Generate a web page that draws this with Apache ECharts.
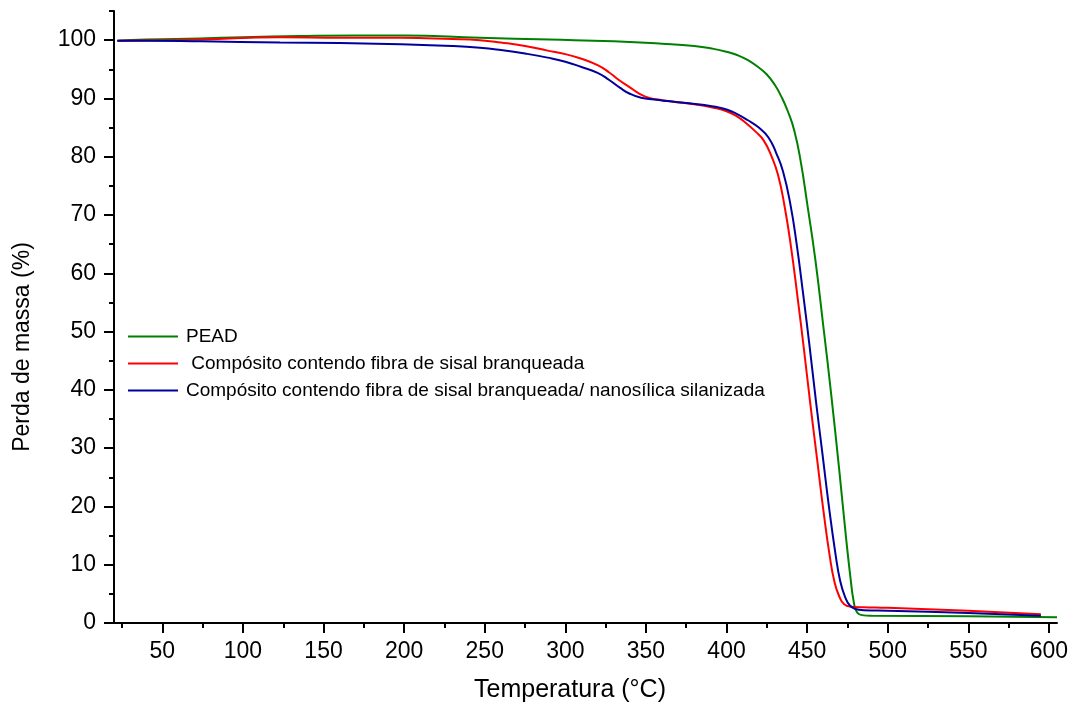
<!DOCTYPE html>
<html>
<head>
<meta charset="utf-8">
<script src="https://cdn.jsdelivr.net/npm/echarts@6/dist/echarts.min.js"></script>
<style>
html,body{margin:0;padding:0;background:#fff;}
#chart{width:1073px;height:711px;}
</style>
</head>
<body>
<div id="chart"></div>
<script>
// ---- data (Temperature °C, mass %) ----
const seriesNames = ['PEAD', ' Compósito contendo fibra de sisal branqueada', 'Compósito contendo fibra de sisal branqueada/ nanosílica silanizada'];

const peadData = [
  [22,99.9],[40,100.1],[73,100.3],[100,100.5],[135,100.7],[170,100.8],[200,100.8],[247,100.4],
  [290,100.1],[330,99.8],[360,99.4],[380,99.0],[392,98.5],[400,98.0],[407,97.4],[413,96.6],
  [420,95.3],[425,94.1],[430,92.3],[434,90.3],[438,87.8],[442,84.5],[446,79.2],[450,72],
  [455,62.5],[460,51],[465,39],[470,26],[474,15],[477,7.5],[479,3.5],[481,1.8],[484,1.35],
  [490,1.25],[550,1.15],[605,1.0]
];

const sisalData = [
  [23,99.9],[50,100.0],[74,100.1],[123,100.5],[160,100.4],[198,100.4],[230,100.2],[247,100.0],
  [260,99.6],[275,99.0],[289,98.2],[300,97.6],[310,96.8],[320,95.7],[327,94.5],[333,93.2],
  [340,91.9],[346,90.8],[352,90.1],[360,89.7],[371,89.3],[380,89.0],[392,88.4],[400,87.8],
  [406,87.0],[412,85.8],[418,84.3],[423,82.8],[428,80.0],[432,76.8],[436,71.5],[440,64.5],
  [444,56],[448,47],[452,37.5],[456,28.5],[460,19.5],[464,11.5],[467,7],[470,4.5],[473,3.2],
  [477,2.8],[485,2.7],[500,2.6],[550,2.1],[595,1.5]
];

const silicaData = [
  [22,99.9],[40,99.9],[74,99.8],[123,99.6],[160,99.5],[198,99.3],[230,99.0],[247,98.7],
  [260,98.3],[275,97.7],[289,97.0],[300,96.3],[310,95.4],[320,94.4],[327,93.2],[334,91.8],
  [340,90.8],[347,90.1],[355,89.8],[365,89.5],[375,89.2],[385,88.9],[392,88.6],[400,88.1],
  [406,87.4],[413,86.3],[420,85.0],[426,83.3],[431,80.5],[435,77.5],[439.5,72.0],[443.5,65],
  [447.5,56.5],[451.5,47.5],[455.5,38],[459.5,29],[463.5,20],[467.5,12],[470.5,7.2],
  [473.5,4.5],[476.5,3.0],[480,2.4],[485,2.2],[500,2.1],[550,1.7],[595,1.25]
];

// ---- axis ticks ----
const xMajorTicks = [50,100,150,200,250,300,350,400,450,500,550,600];
const xMinorTicks = [25,75,125,175,225,275,325,375,425,475,525,575];
const yMajorTicks = [0,10,20,30,40,50,60,70,80,90,100];
const yMinorTicks = [5,15,25,35,45,55,65,75,85,95,105];
const xRange = [20, 605];
const yRange = [0, 105];

const FONT = "'Liberation Sans', Arial, Helvetica, sans-serif";
const chart = echarts.init(document.getElementById('chart'), null, {renderer: 'canvas'});

const axisLineStyle = {color: '#000', width: 2};

chart.setOption({
  backgroundColor: '#fff',
  animation: false,
  grid: {left: 114, right: 16, top: 11, bottom: 88, containLabel: false},
  legend: {
    orient: 'vertical',
    left: 128, top: 327,
    padding: 0,
    itemWidth: 50, itemHeight: 2,
    itemGap: 8,
    icon: 'rect',
    textStyle: {fontFamily: FONT, fontSize: 19, color: '#000', padding: [0, 0, 0, 3]},
    data: seriesNames
  },
  xAxis: [
    {
      type: 'value', min: xRange[0], max: xRange[1], position: 'bottom',
      axisLine: {show: true, lineStyle: axisLineStyle, onZero: false},
      axisTick: {show: true, inside: false, length: 10, lineStyle: {color: '#000', width: 2}, customValues: xMajorTicks},
      axisLabel: {show: true, margin: 17, fontFamily: FONT, fontSize: 23, color: '#000', customValues: xMajorTicks},
      splitLine: {show: false}
    },
    {
      type: 'value', min: xRange[0], max: xRange[1], position: 'bottom',
      axisLine: {show: false, onZero: false},
      axisTick: {show: true, inside: false, length: 5, lineStyle: {color: '#000', width: 2}, customValues: xMinorTicks},
      axisLabel: {show: false},
      splitLine: {show: false}
    }
  ],
  yAxis: [
    {
      type: 'value', min: yRange[0], max: yRange[1], position: 'left',
      axisLine: {show: true, lineStyle: axisLineStyle, onZero: false},
      axisTick: {show: true, inside: false, length: 10, lineStyle: {color: '#000', width: 2}, customValues: yMajorTicks},
      axisLabel: {show: true, margin: 18, fontFamily: FONT, fontSize: 23, color: '#000', customValues: yMajorTicks},
      splitLine: {show: false}
    },
    {
      type: 'value', min: yRange[0], max: yRange[1], position: 'left',
      axisLine: {show: false, onZero: false},
      axisTick: {show: true, inside: false, length: 5, lineStyle: {color: '#000', width: 2}, customValues: yMinorTicks},
      axisLabel: {show: false},
      splitLine: {show: false}
    }
  ],
  graphic: [
    {
      type: 'text', x: 570, y: 690,
      style: {text: 'Temperatura (°C)', fontFamily: FONT, fontSize: 25, fill: '#000', align: 'center', verticalAlign: 'middle'}
    },
    {
      type: 'text', x: 23, y: 347, rotation: Math.PI / 2,
      style: {text: 'Perda de massa (%)', fontFamily: FONT, fontSize: 23, fill: '#000', align: 'center', verticalAlign: 'middle'}
    }
  ],
  series: [
    {name: seriesNames[0], type: 'line', data: peadData, symbol: 'none', smooth: 0.5,
     lineStyle: {color: '#008000', width: 2}, itemStyle: {color: '#008000'}, z: 3},
    {name: seriesNames[1], type: 'line', data: sisalData, symbol: 'none', smooth: 0.5,
     lineStyle: {color: '#ff0000', width: 2}, itemStyle: {color: '#ff0000'}, z: 4},
    {name: seriesNames[2], type: 'line', data: silicaData, symbol: 'none', smooth: 0.5,
     lineStyle: {color: '#00009c', width: 2}, itemStyle: {color: '#00009c'}, z: 5}
  ]
});
</script>
</body>
</html>
